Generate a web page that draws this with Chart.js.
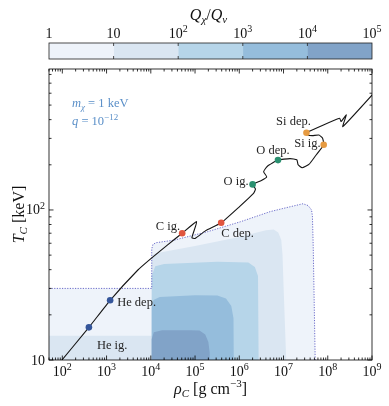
<!DOCTYPE html>
<html>
<head>
<meta charset="utf-8">
<script src="https://cdn.jsdelivr.net/npm/chart.js@4.4.1/dist/chart.umd.min.js"></script>
<style>
  body { margin: 0; background: #fff; }
  #wrap { position: relative; width: 389px; height: 406px; }
  canvas { position: absolute; left: 0; top: 0; }
</style>
</head>
<body>
<div id="wrap">
  <canvas id="main" width="389" height="406"></canvas>
  <canvas id="cbar" width="389" height="64"></canvas>
</div>
<script>
// niveaux du rapport Q_chi / Q_nu
const levelBounds = [1, 10, 1e2, 1e3, 1e4, 1e5];
const cbTickExps = [0, 1, 2, 3, 4, 5];

// axes (rho en g/cm^3, T en keV)
const xMin = 50, xMax = 1e9;
const yMin = 10, yMax = 870;
const xTickExps = [2, 3, 4, 5, 6, 7, 8, 9];
const yTickExps = [1, 2];

// contours (bord superieur / droit de chaque niveau)
const rhoL1 = [50, 1.05e4, 1.05e4, 1.12e4, 1.32e4, 3.4e4, 1.9e5, 1.07e6, 5.0e6, 1.4e7, 2.75e7, 3.6e7, 4.3e7, 4.5e7, 4.7e7, 5.2e7];
const tL1   = [30, 30, 55, 59, 60.5, 63, 71.6, 83.5, 97.5, 105, 110, 107, 100, 91, 56, 10];
const rhoL2 = [50, 1.05e4, 1.05e4, 1.15e4, 1.4e4, 1e5, 1e6, 4e6, 6e6, 7.6e6, 8.9e6, 9.5e6, 1e7, 1.15e7];
const tL2   = [14.5, 14.5, 48, 50.7, 51.6, 57.5, 66, 73.3, 74.1, 70.8, 63, 50, 31.6, 10];
const rhoL3 = [1.05e4, 1.05e4, 1.26e4, 2e4, 3.2e5, 1.6e6, 2.25e6, 2.65e6, 2.72e6, 2.75e6];
const tL3   = [10, 36.3, 42.2, 43.7, 45.2, 44.7, 41.7, 36.3, 25.1, 10];
const rhoL4 = [1.05e4, 1.05e4, 1.15e4, 1.6e4, 1e5, 3.2e5, 5e5, 6.6e5, 7.4e5, 7.5e5];
const tL4   = [10, 22.4, 25.1, 26.3, 27, 26.9, 25.7, 22.9, 19, 10];
const rhoL5 = [1.05e4, 1.05e4, 1.17e4, 1.8e4, 8e4, 1.26e5, 1.7e5, 2e5, 2.14e5, 2.14e5];
const tL5   = [10, 13.8, 15.3, 15.8, 15.8, 15.7, 14.8, 13.2, 11.2, 10];

// trajectoire du coeur
const trackRho = [70.8, 399, 1205, 5105, 1.02e4, 2.4e4, 5.12e4, 1.09e5, 8.5e4, 1e5, 1.74e5, 3.9e5, 1e6, 2.1e6, 2.32e6, 2.0e6,
  3.16e6, 4.17e6, 3.55e6, 4.27e6, 7.5e6, 1.4e7, 2.0e7, 2.14e7, 2.63e7, 3.8e7, 5.25e7, 8.1e7, 7.6e7, 6.3e7, 4.47e7, 3.55e7,
  3.3e7, 1.85e8, 2.0e8, 2.63e8, 2.19e8, 1.58e9];
const trackT = [8.9, 16.5, 25, 39.8, 47.6, 58.5, 70, 83.6, 65.3, 64.6, 72.8, 82.2, 105, 129, 138, 148,
  157, 166, 180, 195, 215, 220, 216, 200, 191, 202, 229, 272, 302, 316, 313, 316,
  327, 408, 389, 430, 359, 676];

// etapes de combustion
const stageNames = ['He ig.', 'He dep.', 'C ig.', 'C dep.', 'O ig.', 'O dep.', 'Si ig.', 'Si dep.'];
const stageRho = [399, 1205, 5.12e4, 3.9e5, 2.0e6, 7.5e6, 8.1e7, 3.3e7];
const stageT = [16.5, 25, 70, 82.2, 148, 215, 272, 327];

// styles
const levelColors = ['#eef3fa', '#dae6f2', '#b6d5e9', '#95bddc', '#81a3c8'];
const stageColors = ['#34559a', '#34559a', '#e0553f', '#e0553f', '#2a9070', '#2a9070', '#e69b42', '#e69b42'];
const stageLabelPos = [
  {dx: 8, dy: 18, align: 'left'}, {dx: 7, dy: 2, align: 'left'},
  {dx: -2, dy: -6, align: 'right'}, {dx: 0, dy: 11, align: 'left'},
  {dx: -4, dy: -3, align: 'right'}, {dx: -5, dy: -9, align: 'center'},
  {dx: -3, dy: -1, align: 'right'}, {dx: -13, dy: -11, align: 'center'}
];
const SERIF = '"Liberation Serif", "DejaVu Serif", serif';
const hiddenAxis = {ticks: {display: false}, grid: {display: false, drawTicks: false}, border: {display: false}};

function font(size, italic) {
  return (italic ? 'italic ' : '') + size + 'px ' + SERIF;
}

function zip(xs, ys) {
  return xs.map((x, i) => ({x: x, y: ys[i]}));
}

// texte "riche" : suite de morceaux avec police et decalage vertical
function drawRuns(ctx, runs, x, y, align) {
  let w = 0;
  runs.forEach(r => { ctx.font = r.f; r.w = ctx.measureText(r.t).width; w += r.w; });
  let cx = align === 'center' ? x - w / 2 : (align === 'right' ? x - w : x);
  ctx.textAlign = 'left';
  runs.forEach(r => { ctx.font = r.f; ctx.fillText(r.t, cx, y + (r.dy || 0)); cx += r.w; });
}

function powRuns(e, size) {
  if (e === 0) return [{t: '1', f: font(size)}];
  if (e === 1) return [{t: '10', f: font(size)}];
  return [{t: '10', f: font(size)}, {t: String(e), f: font(Math.round(size * 0.7)), dy: -size * 0.42}];
}

function logTicks(min, max) {
  const out = [];
  for (let e = Math.floor(Math.log10(min)); e <= Math.ceil(Math.log10(max)); e++) {
    for (let m = 1; m <= 9; m++) {
      const v = m * Math.pow(10, e);
      if (v >= min * 0.999 && v <= max * 1.001) out.push({v: v, major: m === 1});
    }
  }
  return out;
}

// cadre, graduations vers l'interieur et textes
const axesDeco = {
  id: 'axesDeco',
  afterDraw(chart) {
    const ctx = chart.ctx, a = chart.chartArea;
    const x = chart.scales.x, y = chart.scales.y;
    ctx.save();
    ctx.strokeStyle = '#000';
    ctx.lineWidth = 0.8;
    ctx.beginPath();
    logTicks(x.min, x.max).forEach(t => {
      const px = x.getPixelForValue(t.v), len = t.major ? 4.5 : 2.5;
      ctx.moveTo(px, a.bottom); ctx.lineTo(px, a.bottom - len);
      ctx.moveTo(px, a.top); ctx.lineTo(px, a.top + len);
    });
    logTicks(y.min, y.max).forEach(t => {
      const py = y.getPixelForValue(t.v), len = t.major ? 4.5 : 2.5;
      ctx.moveTo(a.left, py); ctx.lineTo(a.left + len, py);
      ctx.moveTo(a.right, py); ctx.lineTo(a.right - len, py);
    });
    ctx.stroke();
    ctx.strokeRect(a.left, a.top, a.right - a.left, a.bottom - a.top);

    ctx.fillStyle = '#111';
    ctx.textBaseline = 'alphabetic';
    xTickExps.forEach(e => drawRuns(ctx, powRuns(e, 14), x.getPixelForValue(Math.pow(10, e)), a.bottom + 16, 'center'));
    yTickExps.forEach(e => drawRuns(ctx, powRuns(e, 14), a.left - 4, y.getPixelForValue(Math.pow(10, e)) + 4.5, 'right'));

    // titres des axes
    drawRuns(ctx, [
      {t: '\u03c1', f: font(16, true)}, {t: 'C', f: font(11, true), dy: 3},
      {t: ' [g cm', f: font(16)}, {t: '\u22123', f: font(11), dy: -7}, {t: ']', f: font(16)}
    ], (a.left + a.right) / 2, a.bottom + 34, 'center');
    ctx.save();
    ctx.translate(24, (a.top + a.bottom) / 2);
    ctx.rotate(-Math.PI / 2);
    drawRuns(ctx, [
      {t: 'T', f: font(16, true)}, {t: 'C', f: font(11, true), dy: 3}, {t: ' [keV]', f: font(16)}
    ], 0, 0, 'center');
    ctx.restore();

    // parametres du modele
    ctx.fillStyle = '#5a8fc8';
    drawRuns(ctx, [
      {t: 'm', f: font(12.5, true)}, {t: '\u03c7', f: font(9, true), dy: 3},
      {t: ' = 1 keV', f: font(12.5)}
    ], a.left + 23, a.top + 38, 'left');
    drawRuns(ctx, [
      {t: 'q', f: font(12.5, true)}, {t: ' = 10', f: font(12.5)}, {t: '\u221212', f: font(9), dy: -5}
    ], a.left + 23, a.top + 56, 'left');

    // etiquettes des etapes
    const meta = chart.getDatasetMeta(chart.data.datasets.length - 1);
    ctx.fillStyle = '#262626';
    ctx.textBaseline = 'middle';
    meta.data.forEach((pt, i) => {
      const p = stageLabelPos[i];
      ctx.font = font(12.5);
      ctx.textAlign = p.align;
      ctx.fillText(stageNames[i], pt.x + p.dx, pt.y + p.dy);
    });
    ctx.restore();
  }
};

const regions = [[rhoL1, tL1], [rhoL2, tL2], [rhoL3, tL3], [rhoL4, tL4], [rhoL5, tL5]].map((r, i) => ({
  data: (i < 2 ? [{x: xMin, y: yMin}] : []).concat(zip(r[0], r[1])),
  showLine: true,
  fill: 'shape',
  backgroundColor: levelColors[i],
  borderColor: 'rgba(0,0,0,0)',
  borderWidth: 0,
  pointRadius: 0,
  order: 20 - i
}));

const datasets = regions.concat([
  {
    // bord du niveau 1 en pointilles
    data: zip(rhoL1, tL1),
    showLine: true, fill: false,
    borderColor: '#5c5cc4', borderWidth: 0.9, borderDash: [1.2, 1.4],
    pointRadius: 0, order: 10
  },
  {
    data: zip(trackRho, trackT),
    showLine: true, fill: false,
    borderColor: '#151515', borderWidth: 1.1, tension: 0.15,
    pointRadius: 0, order: 2
  },
  {
    data: zip(stageRho, stageT),
    showLine: false,
    pointRadius: 3.3, pointBackgroundColor: stageColors, pointBorderWidth: 0,
    order: 1
  }
]);

new Chart(document.getElementById('main').getContext('2d'), {
  type: 'scatter',
  data: {datasets: datasets},
  options: {
    responsive: false,
    animation: false,
    events: [],
    layout: {padding: {left: 49, right: 17, top: 69, bottom: 46}},
    plugins: {legend: {display: false}, tooltip: {enabled: false}},
    scales: {
      x: Object.assign({type: 'logarithmic', min: xMin, max: xMax}, hiddenAxis),
      y: Object.assign({type: 'logarithmic', min: yMin, max: yMax}, hiddenAxis)
    }
  },
  plugins: [axesDeco]
});

// barre de couleur
const cbDeco = {
  id: 'cbDeco',
  afterDraw(chart) {
    const ctx = chart.ctx, a = chart.chartArea, x = chart.scales.x;
    ctx.save();
    ctx.strokeStyle = '#222';
    ctx.lineWidth = 0.8;
    ctx.beginPath();
    levelBounds.slice(1, -1).forEach(v => {
      const px = x.getPixelForValue(v);
      ctx.moveTo(px, a.top); ctx.lineTo(px, a.top + 3);
      ctx.moveTo(px, a.bottom); ctx.lineTo(px, a.bottom - 3);
    });
    ctx.stroke();
    ctx.strokeRect(a.left, a.top, a.right - a.left, a.bottom - a.top);
    ctx.fillStyle = '#111';
    ctx.textBaseline = 'alphabetic';
    cbTickExps.forEach(e => drawRuns(ctx, powRuns(e, 14), x.getPixelForValue(Math.pow(10, e)), a.top - 5.5, 'center'));
    drawRuns(ctx, [
      {t: 'Q', f: font(16, true)}, {t: '\u03c7', f: font(11, true), dy: 3},
      {t: '/', f: font(16)}, {t: 'Q', f: font(16, true)}, {t: '\u03bd', f: font(11, true), dy: 3}
    ], (a.left + a.right) / 2 - 2, 20, 'center');
    ctx.restore();
  }
};

new Chart(document.getElementById('cbar').getContext('2d'), {
  type: 'bar',
  data: {
    labels: [''],
    datasets: levelColors.map((c, i) => ({
      data: [[levelBounds[i], levelBounds[i + 1]]],
      backgroundColor: c,
      borderWidth: 0,
      barPercentage: 1,
      categoryPercentage: 1,
      grouped: false
    }))
  },
  options: {
    indexAxis: 'y',
    responsive: false,
    animation: false,
    events: [],
    layout: {padding: {left: 49, right: 17, top: 43, bottom: 5}},
    plugins: {legend: {display: false}, tooltip: {enabled: false}},
    scales: {
      x: Object.assign({type: 'logarithmic', min: 1, max: 1e5}, hiddenAxis),
      y: hiddenAxis
    }
  },
  plugins: [cbDeco]
});
</script>
</body>
</html>
